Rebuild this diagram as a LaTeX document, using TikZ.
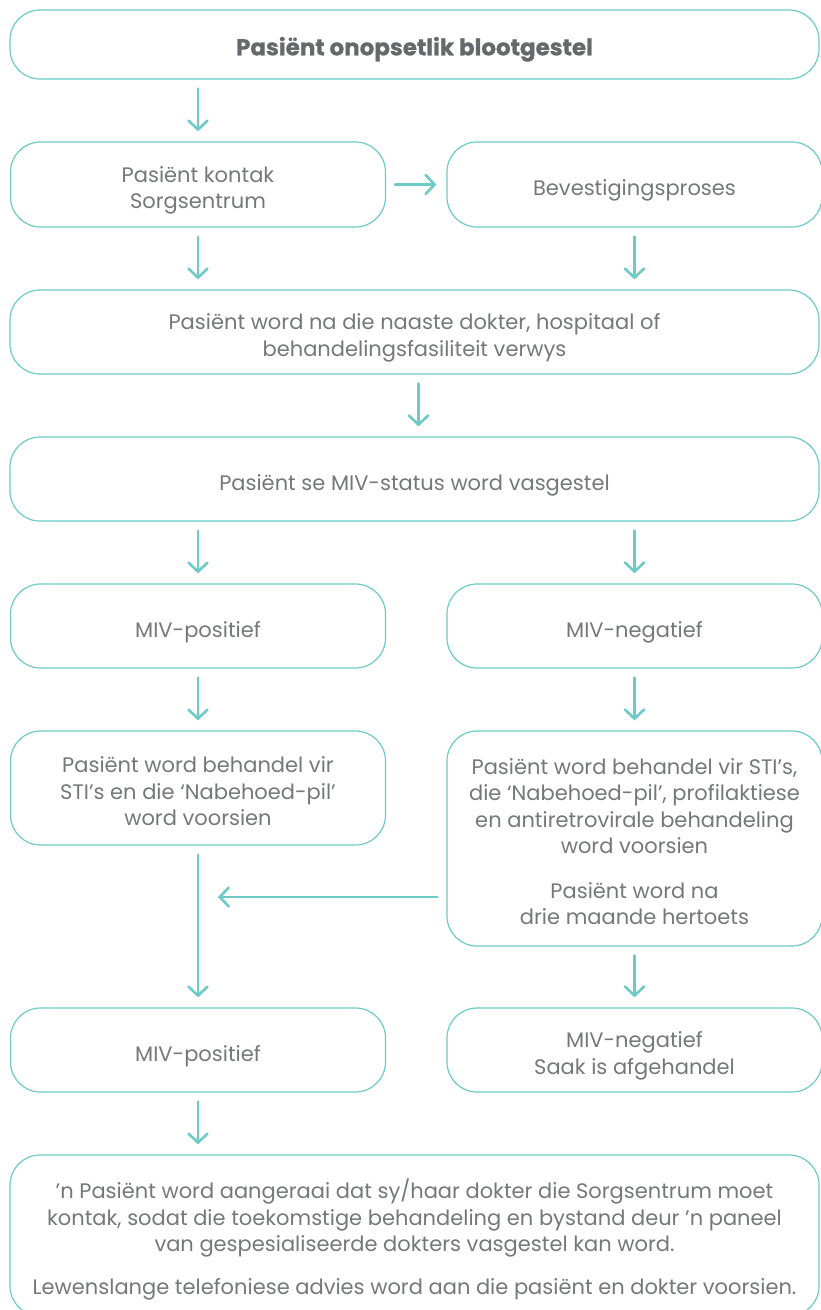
\documentclass[tikz,border=0pt]{standalone}
\usepackage{fontspec}
\setmainfont{Poppins}
\usetikzlibrary{arrows.meta}
\definecolor{mint}{HTML}{6CCBC6}
\definecolor{txtgray}{HTML}{76777A}
\definecolor{headgray}{HTML}{67686B}
\begin{document}
\begin{tikzpicture}[x=1pt, y=-1pt,
		box/.style={draw=mint, line width=1.2pt, rounded corners=30pt, align=center, inner sep=0pt,
			text=txtgray, font=\fontsize{21}{26.5}\selectfont,
			execute at end node={\rule[-6pt]{0pt}{#1}}},
		box/.default=34pt,
		wide/.style={box=#1, minimum width=809pt}, wide/.default=34pt,
		half/.style={box=#1, minimum width=375pt}, half/.default=34pt,
		arr/.style={draw=mint, line width=2.6pt, line cap=round,
			-{Straight Barb[length=9pt, width=19pt, line cap=round]}, shorten <=9pt, shorten >=10pt}]
		\useasboundingbox (0,0) rectangle (821,1310);
		
		% Centres of the boxes
		\coordinate (cT) at (414.5,44.5);
		\coordinate (cK) at (198,184.5);
		\coordinate (cB) at (634.5,184.5);
		\coordinate (cN) at (414.5,332);
		\coordinate (cS) at (414.5,479);
		\coordinate (cP1) at (198,626);
		\coordinate (cN1) at (634.5,626);
		\coordinate (cP2) at (198,788);
		\coordinate (cN2) at (634.5,838.5);
		\coordinate (cP3) at (198,1050);
		\coordinate (cN3) at (634.5,1050);
		\coordinate (cE) at (414.5,1235.5);
		
		% Boxes
		\node[wide, minimum height=69pt, text=headgray, font=\fontsize{23}{26}\selectfont\bfseries\addfontfeature{FakeBold=0.8}] (top) at (cT) {Pasiënt onopsetlik blootgestel};
		\node[half=60.5pt, minimum height=85pt] (kontak) at (cK) {Pasiënt kontak\\Sorgsentrum};
		\node[half, minimum height=85pt] (bevest) at (cB) {Bevestigingsproses};
		\node[wide=60.5pt, minimum height=84pt] (naaste) at (cN) {Pasiënt word na die naaste dokter, hospitaal of\\behandelingsfasiliteit verwys};
		\node[wide, minimum height=84pt] (status) at (cS) {Pasiënt se MIV-status word vasgestel};
		\node[half, minimum height=84pt] (pos1) at (cP1) {MIV-positief};
		\node[half, minimum height=84pt] (neg1) at (cN1) {MIV-negatief};
		\node[half=87pt, minimum height=114pt] (behL) at (cP2) {Pasiënt word behandel vir\\STI’s en die ‘Nabehoed-pil’\\word voorsien};
		\node[half=184.5pt, minimum height=215pt] (behR) at (cN2) {Pasiënt word behandel vir STI’s,\\die ‘Nabehoed-pil’, profilaktiese\\en antiretrovirale behandeling\\word voorsien\\[18pt]Pasiënt word na\\drie maande hertoets};
		\node[half, minimum height=84pt] (pos2) at (cP3) {MIV-positief};
		\node[half=60.5pt, minimum height=84pt] (neg2) at (cN3) {MIV-negatief\\Saak is afgehandel};
		\node[wide=129.5pt, minimum height=161pt] (einde) at (cE) {’n Pasiënt word aangeraai dat sy/haar dokter die Sorgsentrum moet\\kontak, sodat die toekomstige behandeling en bystand deur ’n paneel\\van gespesialiseerde dokters vasgestel kan word.\\[16pt]Lewenslange telefoniese advies word aan die pasiënt en dokter voorsien.};
		
		% Connectors
		\draw[arr] (top.south -| kontak.north) -- (kontak.north);
		\draw[arr] (kontak.east) -- (bevest.west);
		\draw[arr] (kontak.south) -- (kontak.south |- naaste.north);
		\draw[arr] (bevest.south) -- (bevest.south |- naaste.north);
		\draw[arr] ([xshift=4pt]naaste.south) -- ([xshift=4pt]status.north);
		\draw[arr] (status.south -| pos1.north) -- (pos1.north);
		\draw[arr] (status.south -| neg1.north) -- (neg1.north);
		\draw[arr] (pos1.south) -- (behL.north);
		\draw[arr] (neg1.south) -- (behR.north);
		\draw[arr] (behL.south) -- (pos2.north);
		\draw[arr] (behR.south) -- (neg2.north);
		\draw[arr] (pos2.south) -- (pos2.south |- einde.north);
		
		% Retest result joins the left column
		\coordinate (join) at (218,897);
		\draw[arr, shorten >=0pt] (join -| behR.west) -- (join);
	\end{tikzpicture}
\end{document}
